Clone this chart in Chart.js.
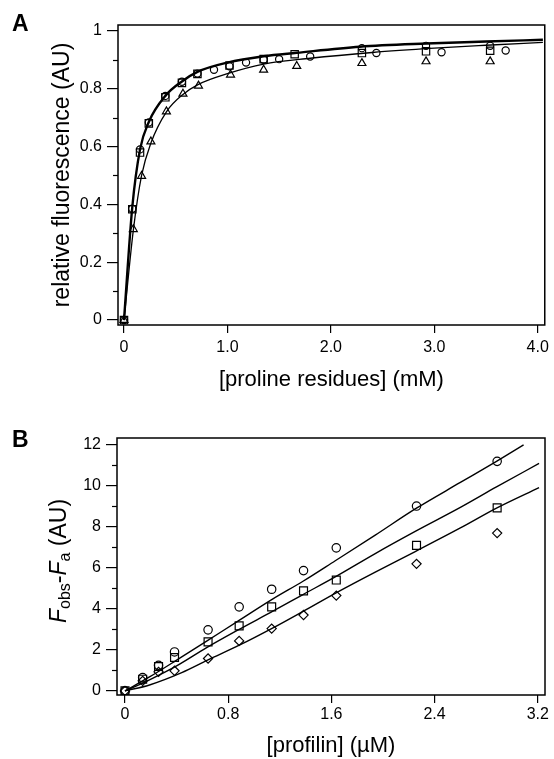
<!DOCTYPE html>
<html>
<head>
<meta charset="utf-8">
<script src="https://cdn.jsdelivr.net/npm/chart.js@4.4.1/dist/chart.umd.min.js"></script>
<style>
  html, body { margin: 0; padding: 0; background: #fff; }
  #wrap { position: relative; width: 554px; height: 759px; }
  .panel { position: absolute; left: 0; width: 554px; }
  #panelA { top: 0; height: 400px; }
  #panelB { top: 400px; height: 359px; }
</style>
</head>
<body>
<div id="wrap">
  <div class="panel" id="panelA"><canvas id="chart-a"></canvas></div>
  <div class="panel" id="panelB"><canvas id="chart-b"></canvas></div>
</div>
<script>
// ---- panel A : fluorescence vs proline residues ----
const xTicksA = [0, 1, 2, 3, 4];
const xTickLabelsA = ["0", "1.0", "2.0", "3.0", "4.0"];
const yTicksA = [0, 0.2, 0.4, 0.6, 0.8, 1];
const yTickLabelsA = ["0", "0.2", "0.4", "0.6", "0.8", "1"];
const yMinorA = [0.1, 0.3, 0.5, 0.7, 0.9];

const circleAX = [0, 0.08, 0.155, 0.24, 0.40, 0.56, 0.71, 0.87, 1.02, 1.18, 1.35, 1.50, 1.80, 2.30, 2.44, 2.92, 3.07, 3.54, 3.69];
const circleAY = [0, 0.385, 0.59, 0.683, 0.775, 0.824, 0.852, 0.865, 0.877, 0.89, 0.90, 0.902, 0.911, 0.94, 0.923, 0.948, 0.926, 0.948, 0.932];
const squareAX = [0, 0.08, 0.155, 0.24, 0.40, 0.56, 0.71, 1.02, 1.35, 1.65, 2.30, 2.92, 3.54];
const squareAY = [0, 0.383, 0.579, 0.68, 0.77, 0.82, 0.851, 0.88, 0.902, 0.919, 0.923, 0.929, 0.931];
const triangleAX = [0, 0.09, 0.17, 0.26, 0.41, 0.57, 0.72, 1.03, 1.35, 1.67, 2.30, 2.92, 3.54];
const triangleAY = [0, 0.314, 0.498, 0.617, 0.721, 0.782, 0.81, 0.848, 0.865, 0.878, 0.888, 0.894, 0.894];

const fitUpperAX = [0, 0.08, 0.155, 0.24, 0.40, 0.56, 0.71, 1.0, 1.35, 1.67, 2.28, 2.92, 3.5, 4.05];
const fitUpperAY = [0, 0.39, 0.59, 0.685, 0.775, 0.825, 0.858, 0.89, 0.912, 0.924, 0.945, 0.956, 0.963, 0.969];
const fitLowerAX = [0, 0.09, 0.17, 0.26, 0.41, 0.57, 0.72, 1.0, 1.35, 1.8, 2.4, 3.0, 3.5, 4.05];
const fitLowerAY = [0, 0.31, 0.50, 0.612, 0.72, 0.78, 0.815, 0.852, 0.885, 0.905, 0.925, 0.94, 0.95, 0.96];

// ---- panel B : Fobs-Fa vs profilin ----
const xTicksB = [0, 0.8, 1.6, 2.4, 3.2];
const xTickLabelsB = ["0", "0.8", "1.6", "2.4", "3.2"];
const yTicksB = [0, 2, 4, 6, 8, 10, 12];
const yTickLabelsB = ["0", "2", "4", "6", "8", "10", "12"];
const yMinorB = [1, 3, 5, 7, 9, 11];

const profilinB = [0, 0.137, 0.26, 0.384, 0.644, 0.885, 1.137, 1.384, 1.638, 2.26, 2.885];
const circleBY = [0, 0.65, 1.25, 1.90, 2.98, 4.10, 4.96, 5.87, 6.98, 9.02, 11.2];
const squareBY = [0, 0.57, 1.19, 1.63, 2.39, 3.17, 4.10, 4.88, 5.41, 7.10, 8.93];
const diamondBY = [0, 0.49, 0.93, 0.98, 1.58, 2.44, 3.04, 3.70, 4.65, 6.20, 7.70];

const fitUpperBX = [0, 0.19, 0.4, 0.63, 0.87, 1.15, 1.38, 1.63, 1.94, 2.25, 2.6, 2.88, 3.09];
const fitUpperBY = [0, 0.68, 1.5, 2.42, 3.38, 4.5, 5.35, 6.35, 7.6, 8.88, 10.17, 11.2, 12.0];
const fitMiddleBX = [0, 0.19, 0.4, 0.63, 0.87, 1.15, 1.38, 1.64, 1.94, 2.25, 2.6, 2.88, 3.21];
const fitMiddleBY = [0, 0.54, 1.22, 2.1, 2.95, 3.9, 4.7, 5.6, 6.7, 7.78, 8.95, 9.95, 11.1];
const fitLowerBX = [0, 0.19, 0.44, 0.64, 0.89, 1.14, 1.38, 1.64, 1.94, 2.25, 2.6, 2.88, 3.21];
const fitLowerBY = [0, 0.29, 0.89, 1.5, 2.24, 3.05, 3.88, 4.8, 5.8, 6.8, 7.95, 8.92, 9.92];

const FONT = "'Liberation Sans', Arial, Helvetica, sans-serif";

function toPoints(xs, ys) {
  return xs.map((x, i) => ({ x: x, y: ys[i] }));
}

function markerSet(xs, ys, style, radius) {
  return {
    data: toPoints(xs, ys),
    showLine: false,
    pointStyle: style,
    pointRadius: radius,
    pointBorderColor: "#000",
    pointBackgroundColor: "rgba(255,255,255,0)",
    pointBorderWidth: 1.2,
    order: 0,
  };
}

function fitLine(xs, ys, width) {
  return {
    data: toPoints(xs, ys),
    showLine: true,
    pointRadius: 0,
    borderColor: "#000",
    borderWidth: width,
    cubicInterpolationMode: "monotone",
    fill: false,
    order: 1,
  };
}

// frame round the plot + short minor ticks on the y axis + panel letter
function decorPlugin(letter, letterY, minorTicks) {
  return {
    id: "decor" + letter,
    afterDraw(chart) {
      const { ctx, chartArea } = chart;
      const yScale = chart.scales.y;
      ctx.save();
      ctx.strokeStyle = "#000";
      ctx.lineWidth = 1.5;
      ctx.strokeRect(chartArea.left, chartArea.top, chartArea.right - chartArea.left, chartArea.bottom - chartArea.top);
      ctx.lineWidth = 1.2;
      minorTicks.forEach((v) => {
        const py = Math.round(yScale.getPixelForValue(v)) + 0.5;
        ctx.beginPath();
        ctx.moveTo(chartArea.left - 5, py);
        ctx.lineTo(chartArea.left, py);
        ctx.stroke();
      });
      ctx.fillStyle = "#000";
      ctx.font = "bold 23px " + FONT;
      ctx.textBaseline = "alphabetic";
      ctx.textAlign = "left";
      ctx.fillText(letter, 12, letterY);
      ctx.restore();
    },
  };
}

// y title of panel B with italic F and subscripts
const fobsTitlePlugin = {
  id: "fobsTitle",
  afterDraw(chart) {
    const { ctx } = chart;
    const parts = [
      { t: "F", f: "italic 23px " + FONT, dy: 0 },
      { t: "obs", f: "16px " + FONT, dy: 6 },
      { t: "-", f: "23px " + FONT, dy: 0 },
      { t: "F", f: "italic 23px " + FONT, dy: 0 },
      { t: "a", f: "16px " + FONT, dy: 6 },
      { t: " (AU)", f: "23px " + FONT, dy: 0 },
    ];
    ctx.save();
    let total = 0;
    parts.forEach((p) => {
      ctx.font = p.f;
      p.w = ctx.measureText(p.t).width;
      total += p.w;
    });
    ctx.translate(60, 161);
    ctx.rotate(-Math.PI / 2);
    ctx.fillStyle = "#000";
    ctx.textBaseline = "middle";
    ctx.textAlign = "left";
    let x = -total / 2;
    parts.forEach((p) => {
      ctx.font = p.f;
      ctx.fillText(p.t, x, p.dy);
      x += p.w;
    });
    ctx.restore();
  },
};

function axisX(min, max, ticks, labels, title, height, labelPad, titlePad) {
  return {
    type: "linear",
    min: min,
    max: max,
    afterBuildTicks: (s) => { s.ticks = ticks.map((v) => ({ value: v })); },
    afterFit: (s) => { s.height = height; },
    ticks: {
      callback: (v, i) => labels[i],
      color: "#000",
      font: { family: FONT, size: 16 },
      padding: labelPad,
      maxRotation: 0,
      autoSkip: false,
    },
    grid: { drawOnChartArea: false, drawTicks: true, tickLength: 8, color: "#000", lineWidth: 1.2 },
    border: { display: false },
    title: {
      display: !!title,
      text: title,
      color: "#000",
      font: { family: FONT, size: 22 },
      padding: { top: 0, bottom: titlePad },
    },
  };
}

function axisY(min, max, ticks, labels, width, title, titlePad) {
  return {
    type: "linear",
    min: min,
    max: max,
    afterBuildTicks: (s) => { s.ticks = ticks.map((v) => ({ value: v })); },
    afterFit: (s) => { s.width = width; },
    ticks: {
      callback: (v, i) => labels[i],
      color: "#000",
      font: { family: FONT, size: 16 },
      padding: 5,
      autoSkip: false,
    },
    grid: { drawOnChartArea: false, drawTicks: true, tickLength: 11, color: "#000", lineWidth: 1.2 },
    border: { display: false },
    title: {
      display: !!title,
      text: title,
      color: "#000",
      font: { family: FONT, size: 23 },
      padding: { top: titlePad, bottom: 0 },
    },
  };
}

const commonOptions = {
  responsive: true,
  maintainAspectRatio: false,
  animation: false,
  plugins: { legend: { display: false }, tooltip: { enabled: false } },
};

new Chart(document.getElementById("chart-a"), {
  type: "scatter",
  data: {
    datasets: [
      markerSet(circleAX, circleAY, "circle", 3.6),
      markerSet(squareAX, squareAY, "rect", 5.2),
      markerSet(triangleAX, triangleAY, "triangle", 4.6),
      fitLine(fitUpperAX, fitUpperAY, 2.4),
      fitLine(fitLowerAX, fitLowerAY, 1.3),
    ],
  },
  options: Object.assign({}, commonOptions, {
    layout: { padding: { top: 25, right: 9, bottom: 0, left: 0 } },
    scales: {
      x: axisX(-0.058, 4.068, xTicksA, xTickLabelsA, "[proline residues] (mM)", 75, 5, 7),
      y: axisY(-0.017, 1.02, yTicksA, yTickLabelsA, 118, "relative fluorescence (AU)", 49),
    },
  }),
  plugins: [decorPlugin("A", 31, yMinorA)],
});

new Chart(document.getElementById("chart-b"), {
  type: "scatter",
  data: {
    datasets: [
      markerSet(profilinB, circleBY, "circle", 4.2),
      markerSet(profilinB, squareBY, "rect", 5.6),
      markerSet(profilinB, diamondBY, "rectRot", 4.6),
      fitLine(fitUpperBX, fitUpperBY, 1.4),
      fitLine(fitMiddleBX, fitMiddleBY, 1.4),
      fitLine(fitLowerBX, fitLowerBY, 1.4),
    ],
  },
  options: Object.assign({}, commonOptions, {
    layout: { padding: { top: 38, right: 9, bottom: 0, left: 0 } },
    scales: {
      x: axisX(-0.062, 3.256, xTicksB, xTickLabelsB, "[profilin] (\u00b5M)", 64, 2, 0),
      y: axisY(-0.2, 12.34, yTicksB, yTickLabelsB, 117, "", 0),
    },
  }),
  plugins: [decorPlugin("B", 47, yMinorB), fobsTitlePlugin],
});
</script>
</body>
</html>
